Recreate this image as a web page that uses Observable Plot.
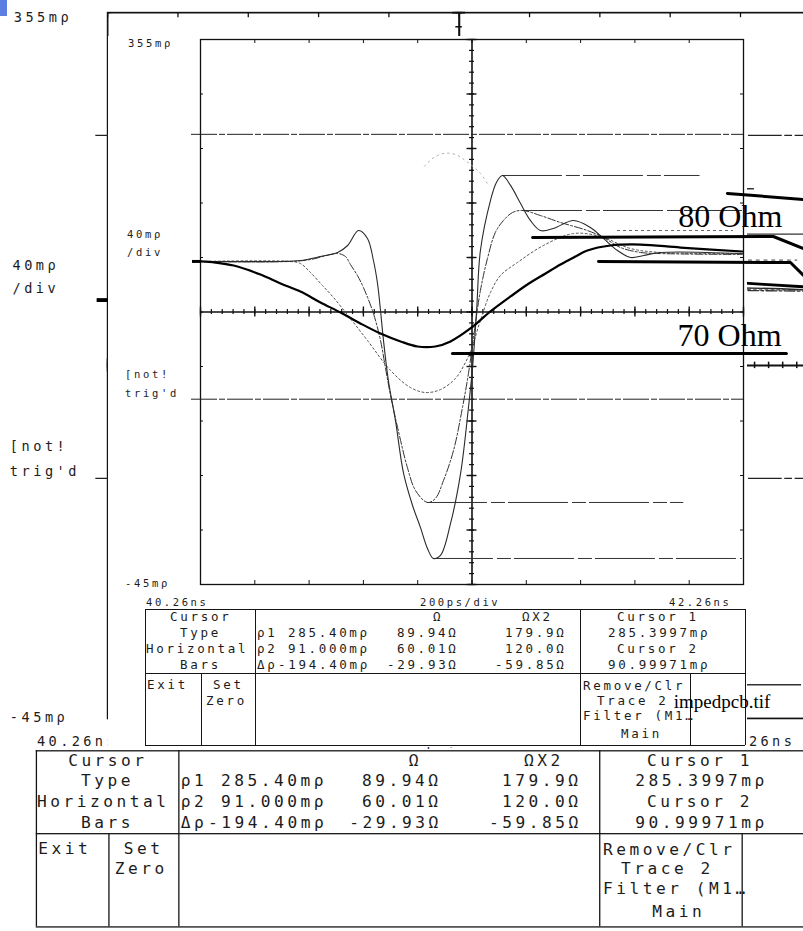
<!DOCTYPE html>
<html><head><meta charset="utf-8">
<script src="https://cdn.jsdelivr.net/npm/d3@7"></script>
<script src="https://cdn.jsdelivr.net/npm/@observablehq/plot@0.6"></script>
<style>
body{margin:0;background:#fff}
#root{position:relative;width:803px;height:931px;overflow:hidden;background:#fff}
.screen{position:absolute;left:0;top:0;width:803px;height:931px}
.screen svg, #root > svg{position:absolute;left:0;top:0}
.t{position:absolute;white-space:pre;font-family:"DejaVu Sans Mono",monospace;color:#1c1c1c;line-height:1}
.hl{position:absolute;height:0;border-top:1.2px solid #151515}
.vl{position:absolute;width:0;border-left:1.2px solid #151515}
</style></head><body>
<div id="root"></div>
<script>
// ---------- data (time in ns, reflection coefficient in mρ) ----------
const timeDomain = [40.26, 42.26];
const reflDomain = [-45, 355];
const centerTime = 41.26;
const centerRefl = 155;
const cursorLevels = [285.4, 91.0];
const baselineLevel = 192.1;

// bold trace (slowest edge)
const traceA = [[40.260,192.1],[40.315,191.3],[40.382,189.1],[40.481,182.5],[40.555,175.9],[40.628,170.0],[40.702,162.0],[40.776,154.6],[40.849,146.6],[40.923,139.2],[40.997,133.4],[41.059,129.7],[41.125,129.7],[41.181,133.4],[41.254,142.9],[41.328,155.4],[41.402,166.4],[41.464,175.2],[41.531,183.3],[41.586,189.9],[41.641,195.7],[41.685,200.1],[41.770,203.8],[41.881,204.5],[42.028,202.3],[42.256,199.4]];
// largest swing trace
const traceB = [[40.260,192.1],[40.555,192.1],[40.628,192.8],[40.702,195.7],[40.765,198.7],[40.802,203.8],[40.842,214.8],[40.875,209.0],[40.897,192.8],[40.912,175.9],[40.923,156.1],[40.934,134.1],[40.952,104.7],[40.978,75.4],[41.008,36.5],[41.041,13.0],[41.070,-3.1],[41.096,-18.6],[41.118,-25.9],[41.144,-23.7],[41.181,-0.2],[41.218,36.5],[41.247,84.9],[41.262,114.3],[41.277,156.1],[41.291,200.1],[41.328,236.8],[41.350,250.1],[41.372,255.2],[41.402,247.9],[41.439,234.6],[41.475,222.2],[41.512,214.8],[41.560,216.3],[41.634,222.2],[41.696,217.0],[41.744,209.0],[41.796,200.1],[41.844,195.0],[41.892,196.5],[41.954,198.7],[42.256,197.9]];
// second trace (dashed)
const traceC = [[40.260,192.1],[40.591,192.1],[40.665,193.5],[40.765,197.9],[40.794,195.7],[40.812,189.9],[40.838,181.8],[40.860,173.0],[40.897,153.9],[40.923,134.1],[40.941,114.3],[40.960,93.7],[40.986,70.2],[41.022,40.9],[41.052,24.0],[41.096,15.2],[41.125,18.1],[41.155,31.3],[41.192,53.4],[41.225,85.0],[41.247,109.9],[41.269,141.4],[41.291,170.8],[41.317,194.3],[41.346,213.4],[41.376,222.2],[41.409,228.0],[41.446,229.5],[41.512,225.8],[41.586,220.7],[41.685,214.8],[41.744,209.7],[41.807,202.3],[41.881,198.7],[41.954,197.9],[42.256,197.2]];
// third trace (dotted)
const traceD = [[40.260,192.1],[40.591,192.1],[40.628,190.6],[40.665,184.0],[40.709,174.5],[40.750,165.6],[40.812,150.2],[40.875,134.1],[40.960,112.1],[41.033,99.6],[41.089,95.9],[41.144,98.1],[41.199,106.2],[41.236,118.0],[41.262,130.4],[41.291,148.8],[41.328,169.3],[41.365,181.8],[41.427,191.3],[41.523,203.8],[41.634,212.6],[41.733,210.4],[41.844,201.6],[41.954,198.7],[42.256,197.9]];
// faint dotted arc near the top
const traceE = [[41.085,262.0],[41.120,268.5],[41.160,271.5],[41.200,270.5],[41.240,265.5],[41.291,256.7],[41.320,248.0]];

// horizontal marker lines at peaks / troughs
const levelMarkers = [
  {r:255.2, t1:41.372, t2:42.10},
  {r:229.5, t1:41.446, t2:42.256},
  {r:15.2,  t1:41.096, t2:42.04},
  {r:-25.9, t1:41.118, t2:42.256}
];
const dottedMarkers = [{r:214.8, t1:41.796, t2:42.223}];

// annotation leader lines and labels
const annotLines = [
  [[41.483,209.7],[42.370,210.4],[42.481,201.6]],
  [[41.726,192.1],[42.433,191.3],[42.481,181.8]],
  [[42.201,242.0],[42.481,237.6]],
  [[41.188,124.6],[42.418,124.6]]
];
const annotLabels = [
  {t:42.020, r:217.5, label:"80 Ohm", size:32},
  {t:42.017, r:130.0, label:"70 Ohm", size:32},
  {t:42.003, r:-136.0, label:"impedpcb.tif", size:19}
];

// screen texts
const axisLabels = [["355mρ",128,47],["40mρ",127,238],["/div",127,256],["[not!",125,378],["trig'd",125,397],["-45mρ",125,587]];
const timeLabels = [["40.26ns",146,606],["200ps/div",420,606],["42.26ns",669,606]];
const menuTexts = [
 ["Cursor",170,622],["Type",180,638],["Horizontal",146,654],["Bars",180,670],
 ["Exit",147,690],["Set",213,690],["Zero",206,706],
 ["Ω",433,622],["ΩX2",522,622],
 ["ρ1",257,638],["285.40mρ",288,638],["89.94Ω",397,638],["179.9Ω",505,638],
 ["ρ2",257,654],["91.000mρ",288,654],["60.01Ω",397,654],["120.0Ω",505,654],
 ["Δρ",257,670],["-194.40mρ",278,670],["-29.93Ω",387,670],["-59.85Ω",495,670],
 ["Cursor 1",617,622],["285.3997mρ",608,638],["Cursor 2",617,654],["90.99971mρ",608,670],
 ["Remove/Clr",583,691],["Trace 2",597,706],["Filter (M1…",583,721],["Main",621,739]
];

// ---------- drawing ----------
const W = 803, H = 931;
const M = {marginLeft:200, marginRight:60, marginTop:39, marginBottom:347};
const pxT = 2/543, pxR = 400/545; // data units per pixel

function scopeSvg(){
  const xMinor = d3.range(0,51).map(i => 40.26 + i*0.04);
  const xMajor = d3.range(0,11).map(i => 40.26 + i*0.2);
  const yMinor = d3.range(0,51).map(i => -45 + i*8);
  const yMajor = d3.range(0,11).map(i => -45 + i*40);
  const pt = {x: d => d[0], y: d => d[1], curve: "catmull-rom"};
  return Plot.plot({
    width: W, height: H, ...M,
    x: {domain: timeDomain, axis: null},
    y: {domain: reflDomain, axis: null},
    style: {background: "transparent", overflow: "visible"},
    marks: [
      Plot.frame({stroke: "#111", strokeWidth: 1.3}),
      // center cross
      Plot.ruleY([centerRefl], {stroke: "#111", strokeWidth: 1.6}),
      Plot.ruleX([centerTime], {stroke: "#111", strokeWidth: 1.6}),
      Plot.ruleX(xMinor, {y1: () => centerRefl - 2.5*pxR, y2: () => centerRefl + 2.5*pxR, stroke: "#111", strokeWidth: 1.2}),
      Plot.ruleX(xMajor, {y1: () => centerRefl - 5*pxR, y2: () => centerRefl + 5*pxR, stroke: "#111", strokeWidth: 1.4}),
      Plot.ruleY(yMinor, {x1: () => centerTime - 2.5*pxT, x2: () => centerTime + 2.5*pxT, stroke: "#111", strokeWidth: 1.2}),
      Plot.ruleY(yMajor, {x1: () => centerTime - 5*pxT, x2: () => centerTime + 5*pxT, stroke: "#111", strokeWidth: 1.4}),
      // edge ticks
      Plot.ruleX(xMajor, {y1: () => reflDomain[1], y2: () => reflDomain[1] - 4*pxR, stroke: "#111"}),
      Plot.ruleX(xMajor, {y1: () => reflDomain[0], y2: () => reflDomain[0] + 4*pxR, stroke: "#111"}),
      Plot.ruleY(yMajor, {x1: () => timeDomain[0], x2: () => timeDomain[0] + 3*pxT, stroke: "#111"}),
      Plot.ruleY(yMajor, {x1: () => timeDomain[1], x2: () => timeDomain[1] - 3*pxT, stroke: "#111"}),
      // cursors
      Plot.ruleY(cursorLevels, {x1: () => timeDomain[0] - 9*pxT, x2: () => timeDomain[1], stroke: "#222", strokeWidth: 1, strokeDasharray: "26,2,6,2"}),
      Plot.ruleY([baselineLevel], {x1: () => timeDomain[0] - 8*pxT, x2: () => timeDomain[0] + 1*pxT, stroke: "#000", strokeWidth: 3}),
      // level markers
      Plot.ruleY(levelMarkers, {y: "r", x1: "t1", x2: "t2", stroke: "#333", strokeWidth: 1, strokeDasharray: "60,4,14,3"}),
      Plot.ruleY(dottedMarkers, {y: "r", x1: "t1", x2: "t2", stroke: "#666", strokeWidth: 1, strokeDasharray: "3,3"}),
      // traces
      Plot.line(traceE, {...pt, stroke: "#aaa", strokeWidth: 1, strokeDasharray: "1.5,4"}),
      Plot.line(traceD, {...pt, stroke: "#555", strokeWidth: 1, strokeDasharray: "2,2.5"}),
      Plot.line(traceC, {...pt, stroke: "#333", strokeWidth: 1, strokeDasharray: "8,2,2,2"}),
      Plot.line(traceB, {...pt, stroke: "#2a2a2a", strokeWidth: 1.1}),
      Plot.line(traceA, {...pt, stroke: "#000", strokeWidth: 2.2})
    ]
  });
}

function addText(parent, txt, x, base, size, ls){
  const d = document.createElement("div");
  d.className = "t"; d.textContent = txt;
  d.style.left = x + "px"; d.style.top = (base - 0.85*size) + "px";
  d.style.fontSize = size + "px"; d.style.letterSpacing = ls + "px";
  parent.appendChild(d);
}
function addH(parent, x1, x2, y){
  const d = document.createElement("div"); d.className = "hl";
  d.style.left = x1 + "px"; d.style.top = y + "px"; d.style.width = (x2 - x1) + "px";
  parent.appendChild(d);
}
function addV(parent, x, y1, y2){
  const d = document.createElement("div"); d.className = "vl";
  d.style.left = x + "px"; d.style.top = y1 + "px"; d.style.height = (y2 - y1) + "px";
  parent.appendChild(d);
}

function buildScreen(){
  const s = document.createElement("div");
  s.className = "screen";
  s.appendChild(scopeSvg());
  for (const [t,x,b] of axisLabels) addText(s, t, x, b, 10.5, 2.7);
  for (const [t,x,b] of timeLabels) addText(s, t, x, b, 10.5, 2.6);
  // menu table
  addH(s, 145, 745, 609); addH(s, 145, 745, 673); addH(s, 145, 745, 745);
  addV(s, 145, 609, 745); addV(s, 255, 609, 745); addV(s, 201, 673, 745);
  addV(s, 580, 609, 745); addV(s, 690, 673, 745); addV(s, 745, 609, 745);
  for (const [t,x,b] of menuTexts) addText(s, t, x, b, 12.5, 2.7);
  return s;
}

const root = document.getElementById("root");
const blue = document.createElement("div");
blue.style.cssText = "position:absolute;left:0;top:0;width:7px;height:16px;background:#5b7fe2";

const outer = buildScreen();
outer.style.transform = "scale(1.295)";
outer.style.transformOrigin = "515.3px 130.5px";
root.appendChild(outer);

const clip = document.createElement("div");
clip.style.cssText = "position:absolute;left:108px;top:36px;width:639px;height:711px;overflow:hidden;background:#fff";
const inner = buildScreen();
inner.style.left = "-108px"; inner.style.top = "-36px";
clip.appendChild(inner);
root.appendChild(clip);

const annot = Plot.plot({
  width: W, height: H, ...M,
  x: {domain: timeDomain, axis: null},
  y: {domain: reflDomain, axis: null},
  style: {background: "transparent", overflow: "visible"},
  marks: [
    ...annotLines.map(l => Plot.line(l, {x: d => d[0], y: d => d[1], stroke: "#000", strokeWidth: 3})),
    Plot.text(annotLabels.filter(d => d.size > 25), {x: "t", y: "r", text: "label", textAnchor: "start", lineAnchor: "bottom", fontFamily: "Liberation Serif", fontSize: 32, fill: "#000"}),
    Plot.text(annotLabels.filter(d => d.size < 25), {x: "t", y: "r", text: "label", textAnchor: "start", lineAnchor: "bottom", fontFamily: "Liberation Serif", fontSize: 19, fill: "#000"})
  ]
});
root.appendChild(annot);
root.appendChild(blue);
</script></body></html>
